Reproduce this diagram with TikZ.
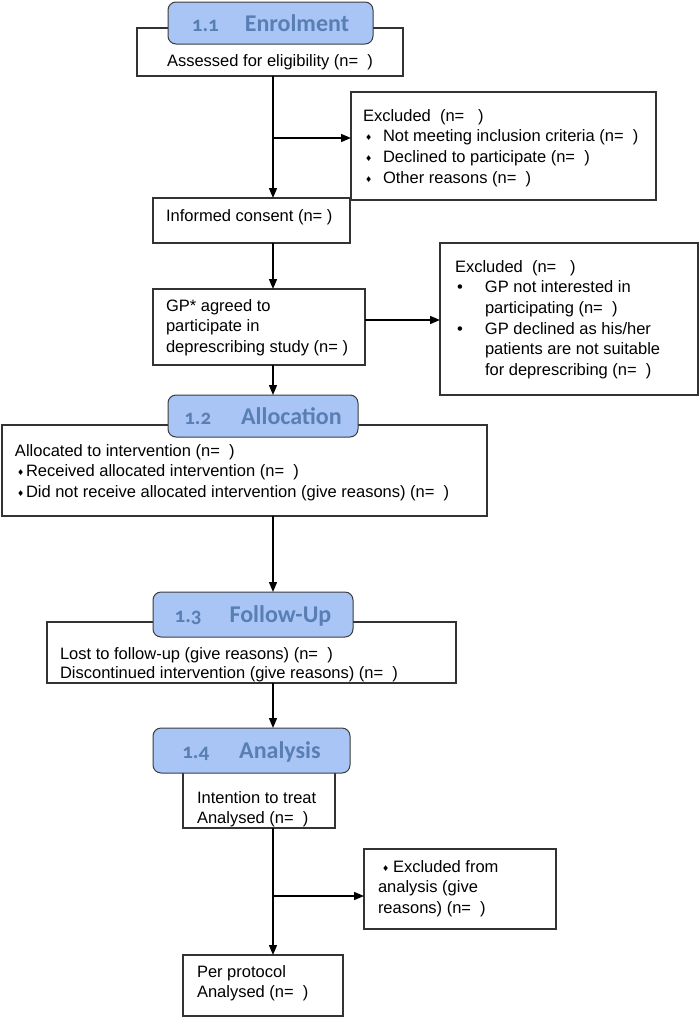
\documentclass[tikz,border=0pt]{standalone}
\usepackage{fontspec}
\setmainfont{Liberation Sans}
\newfontfamily\hdrfont{Carlito}[Numbers=OldStyle]
\newfontfamily\symfont{DejaVu Sans}
\usetikzlibrary{arrows.meta}
\definecolor{boxc}{HTML}{333333}
\definecolor{hdrline}{HTML}{3C3C3C}
\definecolor{hdrfill}{HTML}{A9C5F5}
\definecolor{hdrtext}{HTML}{587EB4}
\newcommand\dia{{\symfont\fontsize{8}{8}\selectfont\raisebox{1pt}{♦}}}
\newcommand\hnum[1]{{\fontsize{21}{21}\selectfont #1}}
\newcommand\mkbox[5]{\node[bx, minimum width={#4-#2}, minimum height={#5-#3}] (#1) at (#2,#3) {};}
\newcommand\mkhdr[6]{\node[hdr, minimum width={#4-#2}, minimum height={#5-#3}] (#1) at (#2,#3) {#6};}
\tikzset{
  bx/.style={draw=boxc, line width=1.2pt, fill=white, rectangle, inner sep=0pt, outer sep=0pt, anchor=north west},
  hdr/.style={draw=hdrline, line width=1pt, fill=hdrfill, rounded corners=8pt, inner sep=0pt, outer sep=0pt,
    anchor=north west, text=hdrtext, font=\hdrfont\bfseries\fontsize{24}{24}\selectfont, text height=16pt, text depth=0pt},
  txt/.style={inner sep=0pt, outer sep=0pt, anchor=base west, font=\fontsize{16.5}{20.7}\selectfont},
  arr/.style={draw=black, line width=1.4pt, -{Triangle[length=10pt,width=8pt]}}
}
\begin{document}
\begin{tikzpicture}[x=1pt,y=-1pt]
\useasboundingbox (0,0) rectangle (700,1018);
% boxes
\mkbox{assess}{137}{28}{403}{76}
\mkbox{excla}{351}{92}{656}{200}
\mkbox{consent}{153}{198}{350}{243}
\mkbox{gp}{153}{289}{365}{365}
\mkbox{exclb}{440}{243}{698}{395}
\mkbox{alloc}{2}{425}{487}{516}
\mkbox{follow}{47}{622}{456}{683}
\mkbox{intent}{183}{759}{335}{828}
\mkbox{exclc}{364}{849}{556}{929}
\mkbox{perprot}{183}{955}{343}{1016}
% headers
\mkhdr{hA}{168}{2}{373}{44}{\hnum{1.1}\hspace{26pt}Enrolment}
\mkhdr{hB}{168}{395}{358}{437}{\hnum{1.2}\hspace{30pt}Allocation}
\mkhdr{hC}{153}{592}{353}{637}{\hnum{1.3}\hspace{28pt}Follow-Up}
\mkhdr{hD}{153}{728}{350}{773}{\hnum{1.4}\hspace{30pt}Analysis}
% texts
\node[txt, anchor=base] (tassess) at (270,66) {Assessed for eligibility (n=\ \ )};
\node[txt] (texcla) at (363,121) {\begin{tabular}[t]{@{}l@{}}
Excluded\ \ (n=\ \ \ )\\
\makebox[20pt][l]{\hspace{2pt}\dia}Not meeting inclusion criteria (n=\ \ )\\
\makebox[20pt][l]{\hspace{2pt}\dia}Declined to participate (n=\ \ )\\
\makebox[20pt][l]{\hspace{2pt}\dia}Other reasons (n=\ \ )
\end{tabular}};
\node[txt] (tconsent) at (166,221) {Informed consent (n= )};
\node[txt] (tgp) at (166,311) {\begin{tabular}[t]{@{}l@{}}
GP* agreed to\\ participate in\\ deprescribing study (n= )
\end{tabular}};
\node[txt] (texclb) at (455,272) {\begin{tabular}[t]{@{}l@{}}
Excluded\ \ (n=\ \ \ )\\
\makebox[30pt][l]{\hspace{2pt}•}GP not interested in\\
\hspace{30pt}participating (n=\ \ )\\
\makebox[30pt][l]{\hspace{2pt}•}GP declined as his/her\\
\hspace{30pt}patients are not suitable\\
\hspace{30pt}for deprescribing (n=\ \ )
\end{tabular}};
\node[txt] (talloc) at (15,456) {\begin{tabular}[t]{@{}l@{}}
Allocated to intervention (n=\ \ )\\
\makebox[11pt][l]{\hspace{2pt}\dia}Received allocated intervention (n=\ \ )\\
\makebox[11pt][l]{\hspace{2pt}\dia}Did not receive allocated intervention (give reasons) (n=\ \ )
\end{tabular}};
\node[txt, font=\fontsize{16.5}{19}\selectfont] (tfollow) at (60,659) {\begin{tabular}[t]{@{}l@{}}
Lost to follow-up (give reasons) (n=\ \ )\\
Discontinued intervention (give reasons) (n=\ \ )
\end{tabular}};
\node[txt, font=\fontsize{16.5}{20}\selectfont] (tintent) at (197,803) {\begin{tabular}[t]{@{}l@{}}
Intention to treat\\ Analysed (n=\ \ )
\end{tabular}};
\node[txt] (texclc) at (378,872) {\begin{tabular}[t]{@{}l@{}}
\makebox[15pt][l]{\hspace{4pt}\dia}Excluded from\\
analysis (give\\
reasons) (n=\ \ )
\end{tabular}};
\node[txt, font=\fontsize{16.5}{20}\selectfont] (tperprot) at (197,977) {\begin{tabular}[t]{@{}l@{}}
Per protocol\\ Analysed (n=\ \ )
\end{tabular}};
% connectors
\coordinate (spine) at (273,0);
\coordinate (ya) at (0,138);
\coordinate (yb) at (0,320);
\coordinate (yc) at (0,896);
\draw[arr] (assess.south -| spine) -- (consent.north -| spine);
\draw[arr] (spine |- ya) -- (excla.west |- ya);
\draw[arr] (consent.south -| spine) -- (gp.north -| spine);
\draw[arr] (gp.east |- yb) -- (exclb.west |- yb);
\draw[arr] (gp.south -| spine) -- (hB.north -| spine);
\draw[arr] (alloc.south -| spine) -- (hC.north -| spine);
\draw[arr] (follow.south -| spine) -- (hD.north -| spine);
\draw[arr] (intent.south -| spine) -- (perprot.north -| spine);
\draw[arr] (spine |- yc) -- (exclc.west |- yc);
\end{tikzpicture}
\end{document}
